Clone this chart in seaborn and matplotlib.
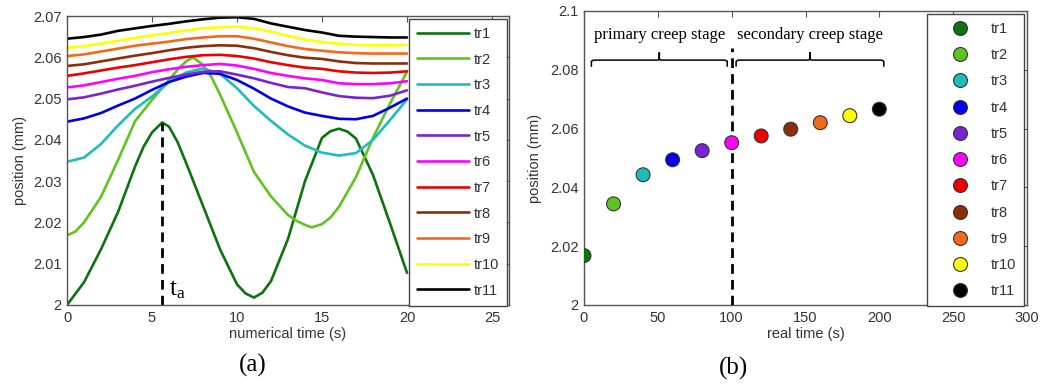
import numpy as np
import pandas as pd
import matplotlib
matplotlib.use("Agg")
import matplotlib.pyplot as plt
import seaborn as sns

sns.set_theme(style="white")
plt.rcParams['font.family'] = ['Liberation Sans', 'DejaVu Sans']

# ---------------- data: panel (a) ----------------
labels = ["tr1", "tr2", "tr3", "tr4", "tr5", "tr6", "tr7", "tr8", "tr9", "tr10", "tr11"]
colors = ["#0d730d", "#5fc420", "#1fbcbc", "#0000ee", "#7a22d6", "#ff00ff",
          "#ee0000", "#8b2f0a", "#f2691c", "#ffff00", "#000000"]

t_grid = [0, 1, 2, 3, 4, 5, 6, 7, 8, 9, 10, 11, 12, 13, 14, 15, 16, 17, 18, 19, 20]
t_tr1 = [0, 1, 2, 3, 4, 4.5, 5, 5.6, 6, 6.5, 7, 8, 9, 10, 10.5, 11, 11.5, 12, 13, 14,
         15, 15.5, 16, 16.5, 17, 18, 19, 20]
t_tr2 = [0, 0.5, 1, 2, 3, 4, 5, 6, 6.5, 7, 7.4, 8, 8.5, 9, 10, 11, 12, 13, 13.5, 14,
         14.4, 15, 15.5, 16, 17, 18, 19, 20]

tr1 = [2.0000, 2.0055, 2.0135, 2.0225, 2.0335, 2.0383, 2.0418, 2.0442, 2.0432, 2.0395,
       2.0345, 2.0240, 2.0135, 2.0050, 2.0028, 2.0018, 2.0030, 2.0058, 2.0160, 2.0300,
       2.0405, 2.0421, 2.0427, 2.0420, 2.0403, 2.0315, 2.0198, 2.0078]
tr2 = [2.0169, 2.0178, 2.0200, 2.0262, 2.0351, 2.0445, 2.0497, 2.0545, 2.0570, 2.0590,
       2.0600, 2.0582, 2.0552, 2.0510, 2.0418, 2.0322, 2.0263, 2.0218, 2.0204, 2.0194,
       2.0188, 2.0196, 2.0212, 2.0238, 2.0310, 2.0405, 2.0488, 2.0565]
tr3 = [2.0347, 2.0357, 2.0390, 2.0435, 2.0475, 2.0505, 2.0540, 2.0563, 2.0573, 2.0560,
       2.0525, 2.0482, 2.0446, 2.0413, 2.0386, 2.0369, 2.0362, 2.0368, 2.0400, 2.0448, 2.0498]
tr4 = [2.0444, 2.0452, 2.0465, 2.0483, 2.0500, 2.0521, 2.0540, 2.0553, 2.0562, 2.0560,
       2.0545, 2.0524, 2.0500, 2.0481, 2.0466, 2.0458, 2.0451, 2.0450, 2.0458, 2.0478, 2.0500]
tr5 = [2.0498, 2.0503, 2.0512, 2.0522, 2.0531, 2.0541, 2.0550, 2.0558, 2.0565, 2.0566,
       2.0558, 2.0549, 2.0538, 2.0528, 2.0525, 2.0515, 2.0506, 2.0502, 2.0501, 2.0507, 2.0520]
tr6 = [2.0527, 2.0532, 2.0540, 2.0548, 2.0555, 2.0564, 2.0571, 2.0577, 2.0581, 2.0584,
       2.0580, 2.0572, 2.0562, 2.0555, 2.0549, 2.0545, 2.0537, 2.0535, 2.0535, 2.0537, 2.0542]
tr7 = [2.0555, 2.0561, 2.0568, 2.0575, 2.0581, 2.0588, 2.0595, 2.0601, 2.0605, 2.0606,
       2.0603, 2.0597, 2.0588, 2.0581, 2.0575, 2.0572, 2.0566, 2.0563, 2.0562, 2.0563, 2.0566]
tr8 = [2.0579, 2.0583, 2.0590, 2.0597, 2.0604, 2.0610, 2.0617, 2.0623, 2.0627, 2.0629,
       2.0628, 2.0622, 2.0613, 2.0605, 2.0599, 2.0596, 2.0590, 2.0586, 2.0585, 2.0585, 2.0585]
tr9 = [2.0603, 2.0607, 2.0614, 2.0621, 2.0628, 2.0633, 2.0638, 2.0644, 2.0648, 2.0651,
       2.0651, 2.0645, 2.0636, 2.0627, 2.0620, 2.0616, 2.0612, 2.0610, 2.0609, 2.0609, 2.0609]
tr10 = [2.0623, 2.0627, 2.0633, 2.0640, 2.0647, 2.0653, 2.0659, 2.0665, 2.0670, 2.0673,
        2.0674, 2.0670, 2.0662, 2.0652, 2.0643, 2.0637, 2.0633, 2.0630, 2.0629, 2.0629, 2.0630]
tr11 = [2.0645, 2.0649, 2.0655, 2.0664, 2.0670, 2.0676, 2.0681, 2.0687, 2.0692, 2.0696,
        2.0697, 2.0693, 2.0682, 2.0674, 2.0666, 2.0660, 2.0652, 2.0650, 2.0649, 2.0648, 2.0648]

series_t = [t_tr1, t_tr2] + [t_grid] * 9
series_y = [tr1, tr2, tr3, tr4, tr5, tr6, tr7, tr8, tr9, tr10, tr11]

t_a = 5.6
t_a_peak = 2.0442

# ---------------- data: panel (b) ----------------
real_time = [0, 20, 40, 60, 80, 100, 120, 140, 160, 180, 200]
position_b = [2.0168, 2.0344, 2.0443, 2.0494, 2.0525, 2.0552, 2.0575, 2.0598, 2.0620, 2.0644, 2.0666]
stage_split = 100
stage_names = ["primary creep stage", "secondary creep stage"]
stage_spans = [(5, 97), (103, 203)]

xt_a = [0, 5, 10, 15, 20, 25]
yt_a = [2.00, 2.01, 2.02, 2.03, 2.04, 2.05, 2.06, 2.07]
ytl_a = ["2", "2.01", "2.02", "2.03", "2.04", "2.05", "2.06", "2.07"]
xt_b = [0, 50, 100, 150, 200, 250, 300]
yt_b = [2.00, 2.02, 2.04, 2.06, 2.08, 2.10]
ytl_b = ["2", "2.02", "2.04", "2.06", "2.08", "2.1"]

# ---------------- figure ----------------
W, H = 1046, 385
fig = plt.figure(figsize=(W / 100, H / 100), dpi=100)
ax1 = fig.add_axes([67 / W, 1 - 305 / H, (509 - 67) / W, (305 - 16) / H])
ax2 = fig.add_axes([584 / W, 1 - 305 / H, (1027 - 584) / W, (305 - 11) / H])

txt_col = "#333333"
spine_col = "#555555"

for lab, col, tt, yy in zip(labels, colors, series_t, series_y):
    sns.lineplot(x=tt, y=yy, color=col, lw=1.9, ax=ax1, label=lab, estimator=None)

ax1.vlines(t_a, 2.0, t_a_peak, colors="black", linestyles=(0, (3.5, 2.2)), lw=2.0, zorder=5)
ax1.text(t_a + 0.4, 2.0010, r"$\mathregular{t_a}$", family="Liberation Serif",
         fontsize=18, color="black", ha="left", va="bottom")

ax1.set_xlim(0, 26)
ax1.set_ylim(2.0, 2.07)
ax1.set_xticks(xt_a)
ax1.set_yticks(yt_a)
ax1.set_yticklabels(ytl_a)
ax1.set_xlabel("numerical time (s)", fontsize=10.5, color=txt_col, labelpad=2)
ax1.set_ylabel("position (mm)", fontsize=10.5, color=txt_col, labelpad=4)

leg1 = ax1.legend(loc="upper left", bbox_to_anchor=(0.773, 0.99), fontsize=10.5,
                  frameon=True, fancybox=False, framealpha=1, edgecolor="#444444",
                  handlelength=3.6, handletextpad=0.3, labelspacing=0.80,
                  borderpad=0.55, borderaxespad=0)
leg1.get_frame().set_linewidth(1.0)
for txt in leg1.get_texts():
    txt.set_color(txt_col)

# panel (b)
df_b = pd.DataFrame({"time": real_time, "pos": position_b, "trial": labels})
sns.scatterplot(data=df_b, x="time", y="pos", hue="trial", palette=colors,
                hue_order=labels, s=100, edgecolor="#333333", linewidth=0.8,
                ax=ax2, zorder=4, legend="full")

ax2.vlines(stage_split, 2.0, 2.0874, colors="black", linestyles=(0, (3.5, 2.2)), lw=2.0, zorder=3)

y_bar, y_end, y_tip = 2.0833, 2.0812, 2.0858
for (x0, x1), name in zip(stage_spans, stage_names):
    xc = (x0 + x1) / 2
    ax2.plot([x0, x0, x0 + 1.5, xc - 1, xc, xc, xc, xc + 1, x1 - 1.5, x1, x1],
             [y_end, y_bar - 0.0004, y_bar, y_bar, y_bar + 0.0003, y_tip, y_bar + 0.0003,
              y_bar, y_bar, y_bar - 0.0004, y_end],
             color="black", lw=1.1)
    ax2.text(xc, 2.0890, name, family="Liberation Serif", fontsize=12,
             ha="center", va="bottom", color="black")

ax2.set_xlim(0, 300)
ax2.set_ylim(2.0, 2.1)
ax2.set_xticks(xt_b)
ax2.set_yticks(yt_b)
ax2.set_yticklabels(ytl_b)
ax2.set_xlabel("real time (s)", fontsize=10.5, color=txt_col, labelpad=2)
ax2.set_ylabel("position (mm)", fontsize=10.5, color=txt_col, labelpad=6)

h, l = ax2.get_legend_handles_labels()
leg2 = ax2.legend(h, l, loc="upper left", bbox_to_anchor=(0.774, 0.99), fontsize=10.5,
                  frameon=True, fancybox=False, framealpha=1, edgecolor="#444444",
                  handlelength=3.4, handletextpad=0.45, labelspacing=0.84,
                  borderpad=0.55, borderaxespad=0)
leg2.get_frame().set_linewidth(1.0)
for txt in leg2.get_texts():
    txt.set_color(txt_col)

for ax in (ax1, ax2):
    for sp in ax.spines.values():
        sp.set_visible(True)
        sp.set_color(spine_col)
        sp.set_linewidth(1.0)
    ax.tick_params(direction="in", length=4, width=0.8, colors=spine_col,
                   labelcolor=txt_col, labelsize=10.5, top=True, right=True,
                   pad=4)
    ax.grid(False)

fig.text(253 / W, 1 - 365 / H, "(a)", family="Liberation Serif", fontsize=18,
         ha="center", va="center", color="black")
fig.text(733 / W, 1 - 368 / H, "(b)", family="Liberation Serif", fontsize=18,
         ha="center", va="center", color="black")

fig.savefig("out.png", dpi=100, facecolor="white")
